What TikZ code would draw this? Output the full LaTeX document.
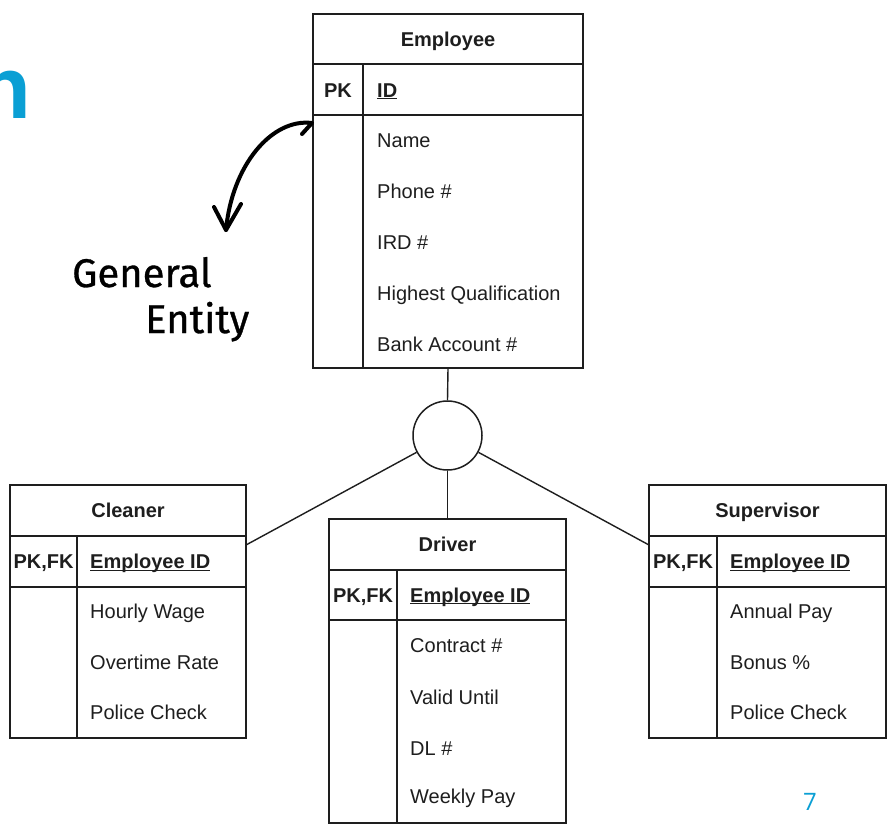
\documentclass[tikz,border=0pt]{standalone}
\usepackage{fontspec}
\setmainfont{Liberation Sans}
\newfontfamily\handfont[FakeBold=0.8]{Fira Sans}
\newfontfamily\numfont{Open Sans}
\usetikzlibrary{fit}
\definecolor{ink}{HTML}{1E1E1E}
\definecolor{brand}{HTML}{0A9FD4}
\newcommand\keyul[1]{\setbox0\hbox{#1}\rlap{\rule[-2.4pt]{\wd0}{1.4pt}}\box0}
\begin{document}
\begin{tikzpicture}[x=1pt,y=-1pt,
  every node/.style={font=\fontsize{20}{24}\selectfont, text=ink},
  tbl/.style={draw=ink, line width=1.5pt, inner sep=0pt, fit={#1}},
  rul/.style={draw=ink, line width=1.5pt},
  conn/.style={draw=ink, line width=1.4pt},
  attr/.style={anchor=base west, inner sep=0pt},
  keyc/.style={anchor=base, inner sep=0pt, font=\fontsize{20}{24}\selectfont\bfseries},
  hdr/.style={anchor=base, inner sep=0pt, font=\fontsize{20}{24}\selectfont\bfseries},
  hand/.style={anchor=base west, inner sep=0pt, font=\handfont\fontsize{40}{44}\selectfont, text=black},
  handline/.style={draw=black, line width=4pt, line cap=round, line join=round}]
\useasboundingbox (0,0) rectangle (889,833);
\fill[white] (0,0) rectangle (889,833);

% cut-off title letter
\node[anchor=base west, inner sep=0pt, font=\fontsize{88}{90}\selectfont\bfseries, text=brand] (ttl) at (-23,118) {n};

% ---------- Employee ----------
\node[tbl={(313,14) (583,368)}] (emp) {};
\draw[rul] (313,64) -- (583,64);
\draw[rul] (313,115) -- (583,115);
\draw[rul] (363,64) -- (363,368);
\node[hdr] (empT) at (448,46.5) {Employee};
\node[keyc] (empK) at (338,97) {PK};
\node[attr, font=\fontsize{20}{24}\selectfont\bfseries] (empId) at (377,97) {\keyul{ID}};
\node[attr] (e1) at (377,147) {Name};
\node[attr] (e2) at (377,198) {Phone \#};
\node[attr] (e3) at (377,249) {IRD \#};
\node[attr] (e4) at (377,300) {Highest Qualification};
\node[attr] (e5) at (377,351) {Bank Account \#};

% ---------- Cleaner ----------
\node[tbl={(10,485) (246,738)}] (cln) {};
\draw[rul] (10,536) -- (246,536);
\draw[rul] (10,587) -- (246,587);
\draw[rul] (77,536) -- (77,738);
\node[hdr] (clnT) at (128,517.5) {Cleaner};
\node[keyc] (clnK) at (43.5,568.5) {PK,FK};
\node[attr, font=\fontsize{20}{24}\selectfont\bfseries] (clnId) at (90,568.5) {\keyul{Employee ID}};
\node[attr] (c1) at (90,618) {Hourly Wage};
\node[attr] (c2) at (90,669) {Overtime Rate};
\node[attr] (c3) at (90,719) {Police Check};

% ---------- Driver ----------
\node[tbl={(329,519) (566,823)}] (drv) {};
\draw[rul] (329,570) -- (566,570);
\draw[rul] (329,620) -- (566,620);
\draw[rul] (397,570) -- (397,823);
\node[hdr] (drvT) at (447.5,551.5) {Driver};
\node[keyc] (drvK) at (363,602) {PK,FK};
\node[attr, font=\fontsize{20}{24}\selectfont\bfseries] (drvId) at (410,602) {\keyul{Employee ID}};
\node[attr] (d1) at (410,652) {Contract \#};
\node[attr] (d2) at (410,704) {Valid Until};
\node[attr] (d3) at (410,755) {DL \#};
\node[attr] (d4) at (410,803) {Weekly Pay};

% ---------- Supervisor ----------
\node[tbl={(649,485) (886,738)}] (sup) {};
\draw[rul] (649,536) -- (886,536);
\draw[rul] (649,587) -- (886,587);
\draw[rul] (717,536) -- (717,738);
\node[hdr] (supT) at (767.5,517.5) {Supervisor};
\node[keyc] (supK) at (683,568.5) {PK,FK};
\node[attr, font=\fontsize{20}{24}\selectfont\bfseries] (supId) at (730,568.5) {\keyul{Employee ID}};
\node[attr] (s1) at (730,618) {Annual Pay};
\node[attr] (s2) at (730,669) {Bonus \%};
\node[attr] (s3) at (730,719) {Police Check};

% ---------- generalisation circle ----------
\node[circle, draw=ink, line width=1.5pt, minimum size=69pt, inner sep=0pt] (gen) at (447.5,435.5) {};
\coordinate (clnIn) at (246,545);
\coordinate (supIn) at (649,545);
\draw[conn] (emp.south) -- (gen.north);
\draw[conn] (gen.south) -- (drv.north);
\draw[conn] (gen) -- (clnIn);
\draw[conn] (gen) -- (supIn);

% ---------- handwritten annotation ----------
\coordinate (hk) at (302,134);
\coordinate (hs) at (312,123);
\coordinate (ht) at (226,230);
\coordinate (ha1) at (214,207);
\coordinate (ha2) at (241,204);
\draw[handline] (hk) -- (hs) .. controls (272,118) and (232,165) .. (ht);
\draw[handline] (ha1) -- (ht) -- (ha2);
\node[hand] (g1) at (72,287) {General};
\node[hand] (g2) at (145,333) {Entity};

% page number
\node[anchor=base, inner sep=0pt, font=\numfont\fontsize{24}{28}\selectfont, text=brand] (pg) at (810,810) {7};
\end{tikzpicture}
\end{document}
